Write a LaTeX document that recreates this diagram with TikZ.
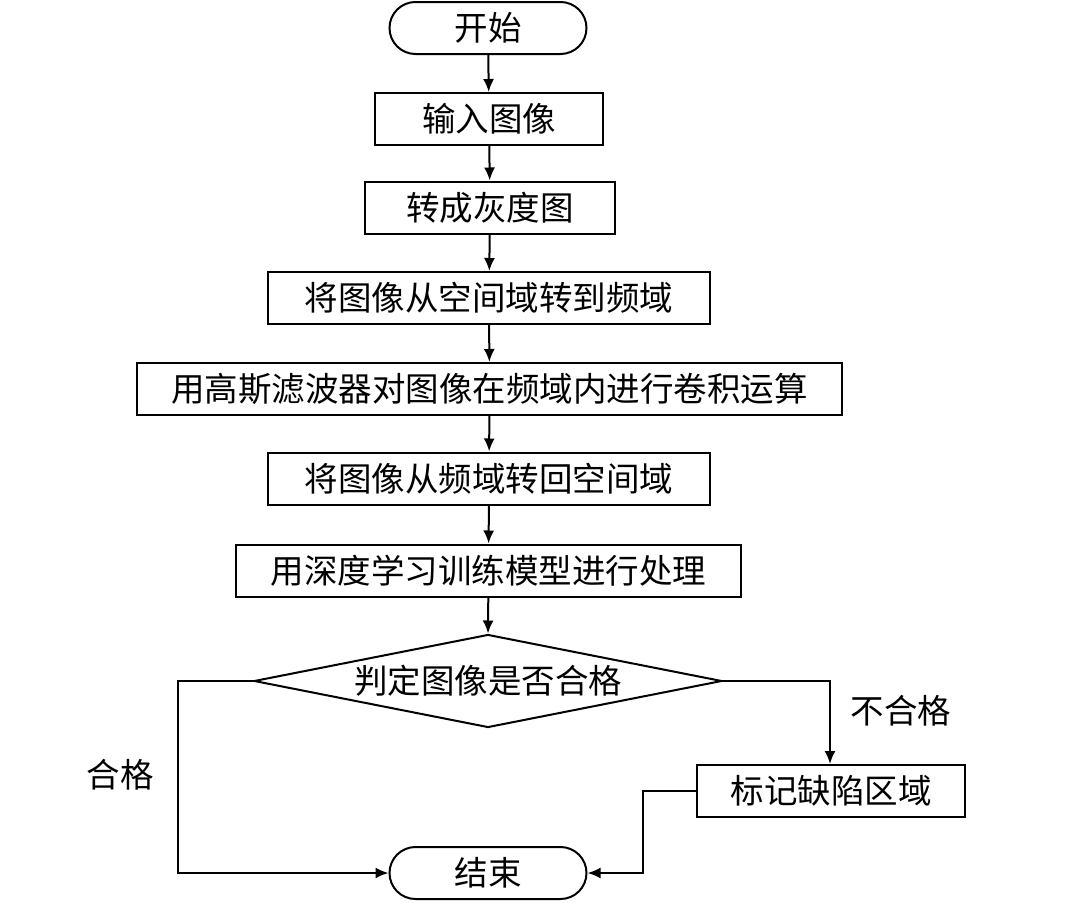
\documentclass[tikz,border=0pt]{standalone}
\usepackage{fontspec}
\newfontfamily\cjk{Noto Sans CJK SC}
\usetikzlibrary{shapes.geometric,arrows.meta}
\begin{document}
\begin{tikzpicture}[x=1pt,y=-1pt,
  every node/.style={font=\cjk\fontsize{33.5}{40}\selectfont, inner sep=0pt},
  box/.style={draw, line width=2pt, rectangle, minimum height=52pt},
  term/.style={draw, line width=2pt, rectangle, rounded corners=26pt, minimum width=197pt, minimum height=52pt},
  dec/.style={draw, line width=2pt, diamond, aspect=5.03, minimum width=468pt, minimum height=93pt},
  conn/.style={line width=2pt, -{Latex[length=13pt,width=11pt]}},
  line/.style={line width=2pt}]
\useasboundingbox (0,0) rectangle (1080,905);
\node[term] (start) at (488,28) {开始};
\node[box, minimum width=228pt] (b1) at (489,119) {输入图像};
\node[box, minimum width=250pt] (b2) at (490,207.5) {转成灰度图};
\node[box, minimum width=442pt] (b3) at (489,298) {将图像从空间域转到频域};
\node[box, minimum width=705pt] (b4) at (489.5,389) {用高斯滤波器对图像在频域内进行卷积运算};
\node[box, minimum width=442pt] (b5) at (489,478.5) {将图像从频域转回空间域};
\node[box, minimum width=505pt] (b6) at (488.5,570.5) {用深度学习训练模型进行处理};
\node[dec, inner sep=0pt] (d) at (488,681) {};
\node at (488,681) {判定图像是否合格};
\node[box, minimum width=268pt] (mark) at (831,791) {标记缺陷区域};
\node[term] (end) at (488,873) {结束};
\node (ok) at (120,775) {合格};
\node (nok) at (901,711) {不合格};
\coordinate (cL1) at (178,681);
\coordinate (cL2) at (178,873);
\coordinate (cR1) at (830,681);
\coordinate (cM1) at (643,791);
\coordinate (cM2) at (643,873);
\draw[conn] (start) -- (b1);
\draw[conn] (b1) -- (b2);
\draw[conn] (b2) -- (b3);
\draw[conn] (b3) -- (b4);
\draw[conn] (b4) -- (b5);
\draw[conn] (b5) -- (b6);
\draw[conn] (b6) -- (d.north);
\draw[conn] (d.west) -- (cL1) -- (cL2) -- (end.west);
\draw[conn] (d.east) -- (cR1) -- (mark.north -| cR1);
\draw[conn] (mark.west) -- (cM1) -- (cM2) -- (end.east);
\end{tikzpicture}
\end{document}
